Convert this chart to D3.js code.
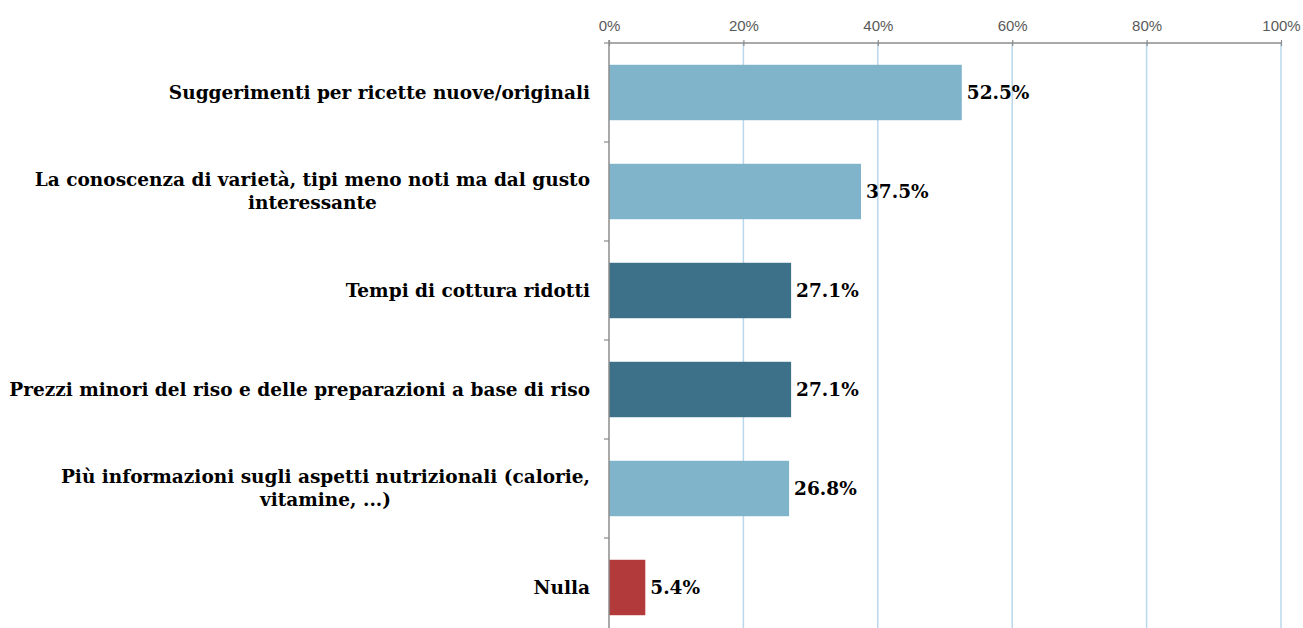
<!DOCTYPE html>
<html>
<head>
<meta charset="utf-8">
<script src="https://cdn.jsdelivr.net/npm/d3@7"></script>
<style>
  html, body { margin: 0; padding: 0; background: #fff; }
  svg { display: block; }
</style>
</head>
<body>
<svg id="chart" width="1303" height="628"></svg>
<script>
// Survey answers (each row may be split on "\n" into two centred lines)
const categories = [
  "Suggerimenti per ricette nuove/originali",
  "La conoscenza di varietà, tipi meno noti ma dal gusto\ninteressante",
  "Tempi di cottura ridotti",
  "Prezzi minori del riso e delle preparazioni a base di riso",
  "Più informazioni sugli aspetti nutrizionali (calorie,\nvitamine, ...)",
  "Nulla"
];
const values = [52.5, 37.5, 27.1, 27.1, 26.8, 5.4];
const groups = ["light", "light", "dark", "dark", "light", "none"];
const tickValues = [0, 20, 40, 60, 80, 100];

const palette = { light: "#80b4ca", dark: "#3d7189", none: "#b33a3b" };

const svg = d3.select("#chart");
const margin = { top: 43, left: 609, right: 22 };
const plotBottom = 637;

const x = d3.scaleLinear().domain([0, 100]).range([margin.left, 1303 - margin.right]);
const y = d3.scaleBand().domain(d3.range(categories.length))
  .range([margin.top, plotBottom]).paddingInner(0.44).paddingOuter(0.22);

// vertical gridlines
svg.append("g").selectAll("line").data(tickValues.filter(d => d > 0)).join("line")
  .attr("x1", d => x(d)).attr("x2", d => x(d))
  .attr("y1", margin.top).attr("y2", plotBottom)
  .attr("stroke", "#b9d7ec").attr("stroke-width", 1.5);

// top axis
const xAxis = d3.axisTop(x).tickValues(tickValues).tickFormat(d => d + "%")
  .tickSizeInner(-4).tickSizeOuter(0).tickPadding(12);
const gx = svg.append("g").attr("transform", `translate(0,${margin.top})`).call(xAxis);
gx.select(".domain").attr("stroke", "#8c8c8c").attr("stroke-width", 1.5)
  .attr("d", `M${x(0)},0H${x(100)}`);
gx.selectAll(".tick line").attr("stroke", "#8c8c8c").attr("stroke-width", 1.2)
  .attr("y1", -3).attr("y2", 3);
gx.selectAll(".tick text").attr("fill", "#595959")
  .attr("font-family", "Liberation Sans, Arial, sans-serif").attr("font-size", 15)
  .attr("dy", "0");

// bars
svg.append("g").selectAll("rect").data(values).join("rect")
  .attr("x", x(0)).attr("y", (d, i) => y(i))
  .attr("width", d => x(d) - x(0)).attr("height", y.bandwidth())
  .attr("fill", (d, i) => palette[groups[i]]);

// left axis with ticks at band boundaries
const bounds = d3.range(categories.length + 1).map(i => margin.top + i * (plotBottom - margin.top) / categories.length);
const gy = svg.append("g");
gy.append("line").attr("x1", x(0)).attr("x2", x(0)).attr("y1", margin.top - 3).attr("y2", plotBottom)
  .attr("stroke", "#8c8c8c").attr("stroke-width", 1.5);
gy.selectAll(".bt").data(bounds).join("line").attr("class", "bt")
  .attr("x1", x(0) - 5).attr("x2", x(0))
  .attr("y1", d => d).attr("y2", d => d)
  .attr("stroke", "#8c8c8c").attr("stroke-width", 1.2);

// category labels
const labelFont = "DejaVu Serif, serif";
const labelSize = 18.5;
const lineGap = 23;
const labels = svg.append("g").attr("font-family", labelFont).attr("font-weight", "bold")
  .attr("font-size", labelSize).attr("fill", "#000");
categories.forEach((c, i) => {
  const lines = c.split("\n");
  const cy = y(i) + y.bandwidth() / 2;
  const t = labels.append("text").attr("text-anchor", "middle");
  const spans = lines.map((l, k) => t.append("tspan").text(l)
    .attr("y", cy + (k - (lines.length - 1) / 2) * lineGap).attr("dy", "0.35em"));
  const maxW = d3.max(spans, s => s.node().getComputedTextLength());
  spans.forEach(s => s.attr("x", 590 - maxW / 2));
});

// value labels
svg.append("g").selectAll("text").data(values).join("text")
  .attr("x", d => x(d) + 5).attr("y", (d, i) => y(i) + y.bandwidth() / 2).attr("dy", "0.35em")
  .attr("font-family", labelFont).attr("font-weight", "bold").attr("font-size", labelSize)
  .attr("fill", "#000")
  .text(d => d.toFixed(1) + "%");
</script>
</body>
</html>
